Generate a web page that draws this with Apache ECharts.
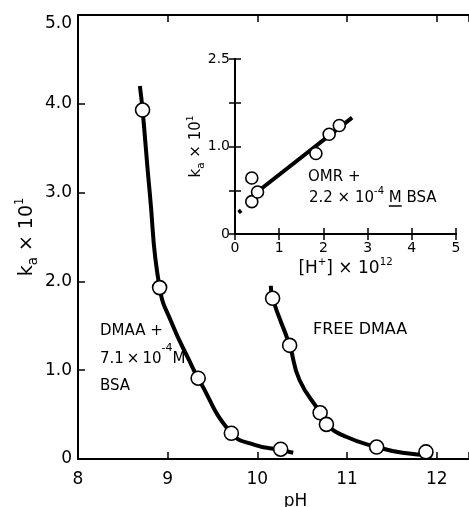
<!DOCTYPE html>
<html>
<head>
<meta charset="utf-8">
<script src="https://cdn.jsdelivr.net/npm/echarts@6/dist/echarts.min.js"></script>
<style>
  html, body { margin: 0; padding: 0; background: #fff; }
  #chart { width: 469px; height: 507px; }
</style>
</head>
<body>
<div id="chart"></div>
<script>
// main plot: ka x 10 vs pH
const phBsa = [8.72, 8.91, 9.34, 9.71, 10.26]
const kaBsa = [3.93, 1.93, 0.91, 0.29, 0.11]
const phFree = [10.17, 10.36, 10.70, 10.77, 11.33, 11.88]
const kaFree = [1.81, 1.28, 0.52, 0.39, 0.135, 0.08]

// hand drawn fit curves
const phBsaCurve = [8.69, 8.72, 8.80, 8.91, 9.05, 9.24, 9.34, 9.71, 9.97, 10.26, 10.40]
const kaBsaCurve = [4.20, 3.93, 3.00, 1.93, 1.52, 1.11, 0.91, 0.29, 0.16, 0.10, 0.07]
const phFreeCurve = [10.15, 10.17, 10.36, 10.47, 10.70, 10.77, 10.99, 11.33, 11.62, 11.95]
const kaFreeCurve = [1.95, 1.81, 1.28, 0.89, 0.52, 0.39, 0.25, 0.135, 0.07, 0.04]

// inset: ka x 10 vs [H+] x 10^12 (OMR)
const hConc = [0.38, 0.38, 0.51, 1.83, 2.13, 2.36]
const kaOmr = [0.64, 0.37, 0.48, 0.92, 1.14, 1.24]
const omrLineX = [0.55, 2.65]
const omrLineY = [0.50, 1.33]
const omrDotX = [0.08, 0.14]
const omrDotY = [0.245, 0.27]

// tick labels
const mainXLabels = ['8', '9', '10', '11', '12']
const mainYLabels = ['0', '1.0', '2.0', '3.0', '4.0', '5.0']
const insetXLabels = ['0', '1', '2', '3', '4', '5']
const insetYLabels = ['0', '', '1.0', '', '2.5']

const FONT = 'DejaVu Sans'
const pairs = (xs, ys) => xs.map((x, i) => [x, ys[i]])

// text width, used to put the underline under the M
const measureCtx = document.createElement('canvas').getContext('2d')
function textW (txt, size) {
  measureCtx.font = size + 'px "' + FONT + '"'
  return measureCtx.measureText(txt).width
}

const chart = echarts.init(document.getElementById('chart'), null, { renderer: 'canvas' })

const axisLine = { show: true, lineStyle: { color: '#000', width: 2 } }
const tickIn = { show: true, inside: true, length: 7, lineStyle: { color: '#000', width: 1.5 } }
const noSplit = { show: false }

const kaName = '{t|k}{sub|a}{t| × 10}{sup|1}'
const kaRich = (size) => ({
  t: { fontFamily: FONT, fontSize: size, color: '#000', lineHeight: size + 6 },
  sub: { fontFamily: FONT, fontSize: size * 0.7, color: '#000', verticalAlign: 'bottom' },
  sup: { fontFamily: FONT, fontSize: size * 0.6, color: '#000', verticalAlign: 'top' }
})

const circle = (size) => ({
  type: 'scatter',
  symbol: 'circle',
  symbolSize: size,
  itemStyle: { color: '#fff', borderColor: '#000', borderWidth: 1.6, opacity: 1 },
  emphasis: { disabled: true },
  z: 5
})

const curve = {
  type: 'line',
  smooth: 0.5,
  showSymbol: false,
  symbol: 'none',
  lineStyle: { color: '#000', width: 4 },
  emphasis: { disabled: true },
  z: 3
}

const annoSize = 15
const mLeft = 309 + textW('2.2 × 10', annoSize) + textW('-4', 10) + textW(' ', annoSize)
const mWidth = textW('M', annoSize)

const option = {
  animation: false,
  backgroundColor: '#fff',
  grid: [
    { left: 78, top: 15, right: 0, bottom: 48, outerBoundsMode: 'none' },
    { left: 235, top: 59, width: 221, height: 175, outerBoundsMode: 'none' }
  ],
  xAxis: [
    {
      gridIndex: 0,
      type: 'value',
      min: 8,
      max: 12.36,
      interval: 1,
      axisLine,
      axisTick: tickIn,
      splitLine: noSplit,
      axisLabel: {
        fontFamily: FONT,
        fontSize: 17,
        color: '#000',
        margin: 12,
        formatter: (v) => Number.isInteger(v) ? mainXLabels[v - 8] : ''
      },
      name: 'pH',
      nameLocation: 'middle',
      nameGap: 24,
      nameTextStyle: { fontFamily: FONT, fontSize: 17, color: '#000', padding: [0, 0, 0, 44] }
    },
    {
      gridIndex: 0,
      type: 'value',
      position: 'top',
      min: 8,
      max: 12.36,
      interval: 1,
      axisLine,
      axisTick: tickIn,
      splitLine: noSplit,
      axisLabel: { show: false }
    },
    {
      gridIndex: 1,
      type: 'value',
      min: 0,
      max: 5,
      interval: 1,
      axisLine,
      axisTick: Object.assign({}, tickIn, { length: 6 }),
      splitLine: noSplit,
      axisLabel: {
        fontFamily: FONT,
        fontSize: 14,
        color: '#000',
        margin: 7,
        formatter: (v) => insetXLabels[v]
      },
      name: '{t|[H}{sup|+}{t|] × 10}{sup|12}',
      nameLocation: 'middle',
      nameGap: 23,
      nameTextStyle: { rich: kaRich(17) }
    },
    {
      gridIndex: 1,
      type: 'value',
      position: 'top',
      min: 0,
      max: 5,
      interval: 1,
      axisLine,
      axisTick: Object.assign({}, tickIn, { length: 6 }),
      splitLine: noSplit,
      axisLabel: { show: false }
    }
  ],
  yAxis: [
    {
      gridIndex: 0,
      type: 'value',
      min: 0,
      max: 5,
      interval: 1,
      axisLine,
      axisTick: tickIn,
      splitLine: noSplit,
      axisLabel: {
        fontFamily: FONT,
        fontSize: 17,
        color: '#000',
        margin: 6,
        formatter: (v) => v === 5 ? '{top|' + mainYLabels[v] + '}' : mainYLabels[v],
        rich: { top: { fontFamily: FONT, fontSize: 17, color: '#000', padding: [18, 0, 0, 0] } }
      },
      name: kaName,
      nameLocation: 'middle',
      nameGap: 38,
      nameMoveOverlap: false,
      nameRotate: 90,
      nameTextStyle: { rich: kaRich(19) }
    },
    {
      gridIndex: 1,
      type: 'value',
      min: 0,
      max: 2,
      interval: 0.5,
      axisLine,
      axisTick: Object.assign({}, tickIn, { length: 6 }),
      splitLine: noSplit,
      axisLabel: {
        fontFamily: FONT,
        fontSize: 14,
        color: '#000',
        margin: 5,
        formatter: (v) => insetYLabels[Math.round(v / 0.5)]
      },
      name: kaName,
      nameLocation: 'middle',
      nameGap: 28,
      nameMoveOverlap: false,
      nameRotate: 90,
      nameTextStyle: { rich: kaRich(15) }
    },
    {
      gridIndex: 1,
      type: 'value',
      position: 'right',
      min: 0,
      max: 2,
      interval: 0.5,
      axisLine,
      axisTick: Object.assign({}, tickIn, { length: 6 }),
      splitLine: noSplit,
      axisLabel: { show: false }
    }
  ],
  series: [
    Object.assign({}, curve, { xAxisIndex: 0, yAxisIndex: 0, data: pairs(phBsaCurve, kaBsaCurve) }),
    Object.assign({}, curve, { xAxisIndex: 0, yAxisIndex: 0, data: pairs(phFreeCurve, kaFreeCurve) }),
    Object.assign(circle(14), { xAxisIndex: 0, yAxisIndex: 0, data: pairs(phBsa, kaBsa) }),
    Object.assign(circle(14), { xAxisIndex: 0, yAxisIndex: 0, data: pairs(phFree, kaFree) }),
    Object.assign({}, curve, { smooth: false, xAxisIndex: 2, yAxisIndex: 1, data: pairs(omrLineX, omrLineY) }),
    Object.assign({}, curve, { smooth: false, xAxisIndex: 2, yAxisIndex: 1, data: pairs(omrDotX, omrDotY) }),
    Object.assign(circle(12), { xAxisIndex: 2, yAxisIndex: 1, data: pairs(hConc, kaOmr) })
  ],
  graphic: [
    {
      type: 'text', left: 100, top: 324,
      style: { text: 'DMAA +', font: '15px "DejaVu Sans"', fill: '#000' }
    },
    {
      type: 'text', left: 100, top: 343,
      style: {
        text: '{n|7.1\u2009×\u200910}{s|-4}{n|M}',
        fill: '#000',
        rich: {
          n: { fontFamily: FONT, fontSize: 15, lineHeight: 24, verticalAlign: 'bottom' },
          s: { fontFamily: FONT, fontSize: 11, verticalAlign: 'top' }
        }
      }
    },
    {
      type: 'text', left: 100, top: 379,
      style: { text: 'BSA', font: '15px "DejaVu Sans"', fill: '#000' }
    },
    {
      type: 'text', left: 313, top: 322,
      style: { text: 'FREE DMAA', font: '16px "DejaVu Sans"', fill: '#000' }
    },
    {
      type: 'text', left: 308, top: 170,
      style: { text: 'OMR +', font: annoSize + 'px "DejaVu Sans"', fill: '#000' }
    },
    {
      type: 'text', left: 309, top: 186,
      style: {
        text: '{n|2.2 × 10}{s|-4}{n| M BSA}',
        fill: '#000',
        rich: {
          n: { fontFamily: FONT, fontSize: annoSize, lineHeight: 20, verticalAlign: 'bottom' },
          s: { fontFamily: FONT, fontSize: 10, verticalAlign: 'top' }
        }
      }
    },
    {
      type: 'line',
      shape: { x1: mLeft, y1: 206, x2: mLeft + mWidth, y2: 206 },
      style: { stroke: '#000', lineWidth: 1.5 }
    }
  ]
}

chart.setOption(option)
</script>
</body>
</html>
